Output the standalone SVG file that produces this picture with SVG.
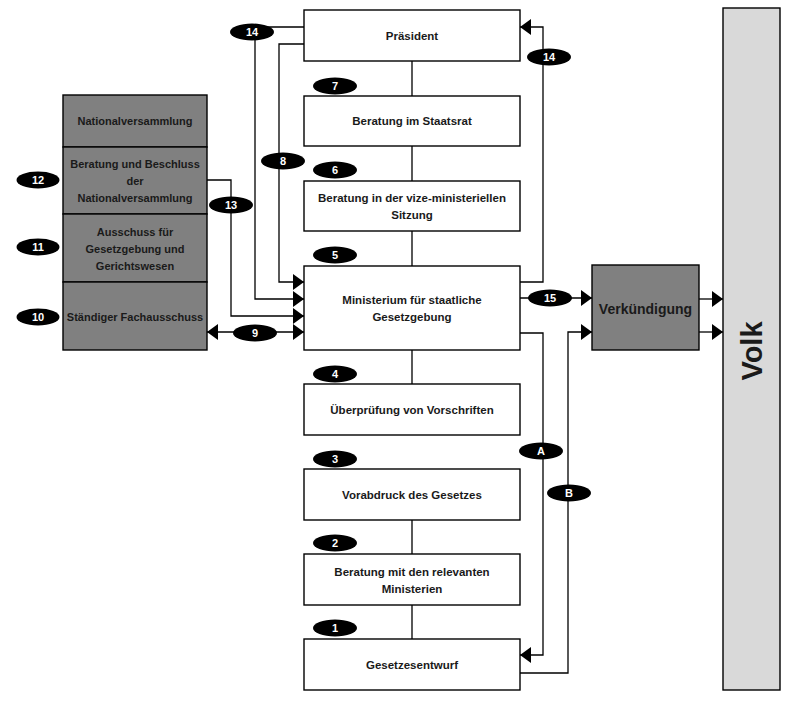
<svg xmlns="http://www.w3.org/2000/svg" width="805" height="708" viewBox="0 0 805 708">
<style>
.box{fill:#ffffff;stroke:#000;stroke-width:1.4}
.gbox{fill:#808080;stroke:#000;stroke-width:1.4}
.volk{fill:#d9d9d9;stroke:#000;stroke-width:1.4}
.t{font-family:"Liberation Sans",Arial,sans-serif;font-weight:bold;font-size:11.5px;fill:#1a1a1a;text-anchor:middle}
.tl{font-family:"Liberation Sans",Arial,sans-serif;font-weight:bold;font-size:11px;fill:#1a1a1a;text-anchor:middle}
.tv{font-family:"Liberation Sans",Arial,sans-serif;font-weight:bold;font-size:14px;fill:#1a1a1a;text-anchor:middle}
.tbig{font-family:"Liberation Sans",Arial,sans-serif;font-weight:bold;font-size:29px;fill:#1a1a1a;text-anchor:middle}
.badge ellipse{fill:#000}
.badge text{font-family:"Liberation Sans",Arial,sans-serif;font-weight:bold;font-size:11px;fill:#fff;text-anchor:middle}
.ln{fill:none;stroke:#000;stroke-width:1.3}
.arr{fill:none;stroke:#000;stroke-width:1.3;marker-end:url(#ah)}
</style>
<defs>
<marker id="ah" markerUnits="userSpaceOnUse" markerWidth="11" markerHeight="16" refX="11" refY="8" orient="auto">
<path d="M0,0 L11,8 L0,16 z" fill="#000"/>
</marker>
<marker id="ahs" markerUnits="userSpaceOnUse" markerWidth="11" markerHeight="16" refX="11" refY="8" orient="auto-start-reverse">
<path d="M0,0 L11,8 L0,16 z" fill="#000"/>
</marker>
</defs>
<rect x="0" y="0" width="805" height="708" fill="#fff"/>

<g id="connectors">
<path class="ln" d="M412,61 V96 M412,146 V181 M412,231 V266 M412,350 V384 M412,520 V554 M412,605 V639"/>
<!-- 14 left -->
<path class="arr" d="M304,27 H255 V299 H304"/>
<!-- 8 -->
<path class="arr" d="M304,44 H279 V282 H304"/>
<!-- 13 -->
<path class="arr" d="M207,180 H231 V316 H304"/>
<!-- 9 -->
<path class="ln" d="M207,332 H304" marker-start="url(#ahs)" marker-end="url(#ah)"/>
<!-- 14 right -->
<path class="arr" d="M520,282 H543 V27 H520"/>
<!-- 15 -->
<path class="arr" d="M520,298 H592"/>
<!-- A -->
<path class="arr" d="M520,333 H543 V655 H520"/>
<!-- B -->
<path class="arr" d="M520,673 H568 V332 H592"/>
<!-- to Volk -->
<path class="arr" d="M699,299 H723"/>
<path class="arr" d="M699,332 H723"/>
</g>

<g id="volk"><rect class="volk" x="723" y="8" width="57" height="682"/>
<text class="tbig" transform="translate(762,351) rotate(-90)">Volk</text></g>

<g id="praesident"><rect class="box" x="304" y="10" width="216" height="51"/><text class="t" x="412" y="40">Präsident</text></g>
<g id="staatsrat"><rect class="box" x="304" y="96" width="216" height="50"/><text class="t" x="412" y="125">Beratung im Staatsrat</text></g>
<g id="vize"><rect class="box" x="304" y="181" width="216" height="50"/><text class="t" x="412" y="202">Beratung in der vize-ministeriellen</text><text class="t" x="412" y="219">Sitzung</text></g>
<g id="ministerium"><rect class="box" x="304" y="266" width="216" height="84"/><text class="t" x="412" y="304">Ministerium für staatliche</text><text class="t" x="412" y="321">Gesetzgebung</text></g>
<g id="ueberpruefung"><rect class="box" x="304" y="384" width="216" height="51"/><text class="t" x="412" y="414">Überprüfung von Vorschriften</text></g>
<g id="vorabdruck"><rect class="box" x="304" y="469" width="216" height="51"/><text class="t" x="412" y="499">Vorabdruck des Gesetzes</text></g>
<g id="beratung-min"><rect class="box" x="304" y="554" width="216" height="51"/><text class="t" x="412" y="576">Beratung mit den relevanten</text><text class="t" x="412" y="593">Ministerien</text></g>
<g id="entwurf"><rect class="box" x="304" y="639" width="216" height="51"/><text class="t" x="412" y="669">Gesetzesentwurf</text></g>

<g id="verkuendigung"><rect class="gbox" x="592" y="265" width="107" height="85"/><text class="tv" x="645.5" y="314">Verkündigung</text></g>

<g id="nationalversammlung"><rect class="gbox" x="63" y="95" width="144" height="52"/><text class="tl" x="135" y="125">Nationalversammlung</text></g>
<g id="beratung-nv"><rect class="gbox" x="63" y="147" width="144" height="67"/><text class="tl" x="135" y="168">Beratung und Beschluss</text><text class="tl" x="135" y="185">der</text><text class="tl" x="135" y="202">Nationalversammlung</text></g>
<g id="ausschuss"><rect class="gbox" x="63" y="214" width="144" height="68"/><text class="tl" x="135" y="236">Ausschuss für</text><text class="tl" x="135" y="253">Gesetzgebung und</text><text class="tl" x="135" y="270">Gerichtswesen</text></g>
<g id="fachausschuss"><rect class="gbox" x="63" y="282" width="144" height="68"/><text class="tl" x="135" y="321">Ständiger Fachausschuss</text></g>

<g id="badges" class="badge">
<g><ellipse cx="252" cy="32" rx="22" ry="8.5"/><text x="252" y="36">14</text></g>
<g><ellipse cx="549" cy="57" rx="22" ry="8.5"/><text x="549" y="61">14</text></g>
<g><ellipse cx="335" cy="86" rx="22" ry="8.5"/><text x="335" y="90">7</text></g>
<g><ellipse cx="283" cy="161" rx="22" ry="8.5"/><text x="283" y="165">8</text></g>
<g><ellipse cx="335" cy="170" rx="22" ry="8.5"/><text x="335" y="174">6</text></g>
<g><ellipse cx="231" cy="205" rx="22" ry="8.5"/><text x="231" y="209">13</text></g>
<g><ellipse cx="335" cy="255" rx="22" ry="8.5"/><text x="335" y="259">5</text></g>
<g><ellipse cx="38" cy="180" rx="21.5" ry="8.5"/><text x="38" y="184">12</text></g>
<g><ellipse cx="38" cy="247" rx="21.5" ry="8.5"/><text x="38" y="251">11</text></g>
<g><ellipse cx="38" cy="317" rx="21.5" ry="8.5"/><text x="38" y="321">10</text></g>
<g><ellipse cx="255" cy="333" rx="22" ry="8.5"/><text x="255" y="337">9</text></g>
<g><ellipse cx="550" cy="298" rx="22" ry="8.5"/><text x="550" y="302">15</text></g>
<g><ellipse cx="335" cy="374" rx="22" ry="8.5"/><text x="335" y="378">4</text></g>
<g><ellipse cx="335" cy="459" rx="22" ry="8.5"/><text x="335" y="463">3</text></g>
<g><ellipse cx="541" cy="451" rx="22" ry="8.5"/><text x="541" y="455">A</text></g>
<g><ellipse cx="569" cy="493" rx="22" ry="8.5"/><text x="569" y="497">B</text></g>
<g><ellipse cx="335" cy="543" rx="22" ry="8.5"/><text x="335" y="547">2</text></g>
<g><ellipse cx="335" cy="628" rx="22" ry="8.5"/><text x="335" y="632">1</text></g>
</g>
</svg>
